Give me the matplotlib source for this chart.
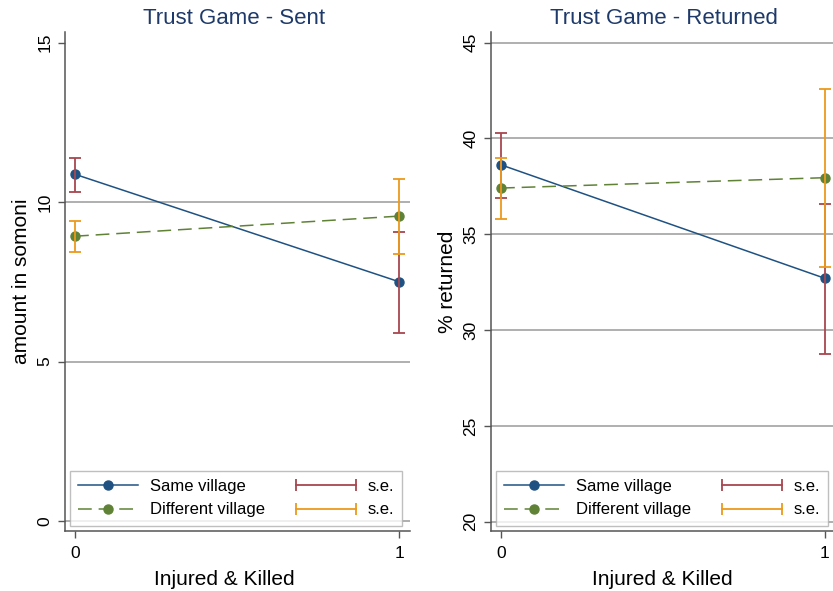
import matplotlib
matplotlib.use("Agg")
import matplotlib.pyplot as plt
from matplotlib.lines import Line2D
from matplotlib.legend_handler import HandlerLine2D

plt.rcParams['font.family'] = ['Liberation Sans', 'DejaVu Sans']

# Data
x_vals = [0, 1]
x_ticklabels = ["0", "1"]

sent_same = [10.87, 7.50]
sent_same_lo = [10.32, 5.91]
sent_same_hi = [11.39, 9.07]
sent_diff = [8.93, 9.56]
sent_diff_lo = [8.44, 8.36]
sent_diff_hi = [9.41, 10.72]

ret_same = [38.62, 32.70]
ret_same_lo = [36.90, 28.77]
ret_same_hi = [40.26, 36.57]
ret_diff = [37.41, 37.95]
ret_diff_lo = [35.81, 33.31]
ret_diff_hi = [38.99, 42.60]

sent_ticks = [0, 5, 10, 15]
sent_grid = [0, 5, 10]
ret_ticks = [20, 25, 30, 35, 40, 45]
ret_grid = [20, 25, 30, 35, 40, 45]

C_SAME = "#1f5282"
C_DIFF = "#5f8236"
C_SE1 = "#a8474f"
C_SE2 = "#eb9a1c"
C_TITLE = "#1e3a6a"
C_GRID = "#9a9a9a"
C_SPINE = "#555555"

fig = plt.figure(figsize=(8.33, 5.91), dpi=100)

panels = [
    dict(rect=[65/833, 60/591, 345/833, 499/591], title="Trust Game - Sent",
         ylabel="amount in somoni", ylim=(-0.31, 15.33), ticks=sent_ticks, grid=sent_grid,
         same=sent_same, same_lo=sent_same_lo, same_hi=sent_same_hi,
         diff=sent_diff, diff_lo=sent_diff_lo, diff_hi=sent_diff_hi, xlim=(-0.031, 1.033),
         leg_anchor=(5/345, 5.3/499), xlabel_x=0.463, title_x=0.49),
    dict(rect=[491/833, 60/591, 342/833, 499/591], title="Trust Game - Returned",
         ylabel="% returned", ylim=(19.52, 45.55), ticks=ret_ticks, grid=ret_grid,
         same=ret_same, same_lo=ret_same_lo, same_hi=ret_same_hi,
         diff=ret_diff, diff_lo=ret_diff_lo, diff_hi=ret_diff_hi, xlim=(-0.031, 1.025),
         leg_anchor=(5/342, 5.3/499), xlabel_x=0.5, title_x=0.505),
]

for p in panels:
    ax = fig.add_axes(p["rect"])
    ax.set_xlim(*p["xlim"])
    ax.set_ylim(*p["ylim"])
    for g in p["grid"]:
        ax.axhline(g, color=C_GRID, lw=1.1, zorder=1)

    ax.plot(x_vals, p["same"], color=C_SAME, lw=1.1, marker="o", ms=6.5,
            zorder=3)
    ax.plot(x_vals, p["diff"], color=C_DIFF, lw=1.1, ls=(0, (9, 4.5)), marker="o",
            ms=6.5, zorder=3)

    for lo, hi, mid, col in [(p["same_lo"], p["same_hi"], p["same"], C_SE1),
                             (p["diff_lo"], p["diff_hi"], p["diff"], C_SE2)]:
        yerr = [[m - l for m, l in zip(mid, lo)], [h - m for m, h in zip(mid, hi)]]
        ax.errorbar(x_vals, mid, yerr=yerr, fmt="none", ecolor=col, elinewidth=1.3,
                    capsize=4, capthick=1.3, zorder=4)

    for s in ["top", "right"]:
        ax.spines[s].set_visible(False)
    for s in ["left", "bottom"]:
        ax.spines[s].set_color(C_SPINE)
        ax.spines[s].set_linewidth(1.1)

    ax.set_xticks(x_vals)
    ax.set_xticklabels(x_ticklabels)
    ax.set_yticks(p["ticks"])
    ax.set_yticklabels([str(t) for t in p["ticks"]], rotation=90, va="center")
    ax.tick_params(axis="both", direction="out", length=5, width=1, color=C_SPINE,
                   labelsize=12.5, pad=4)
    ax.tick_params(axis="x", pad=6)

    ax.set_title(p["title"], color=C_TITLE, fontsize=16, pad=6, x=p["title_x"])
    ax.set_xlabel("Injured & Killed", fontsize=15, labelpad=6)
    ax.xaxis.label.set_x(p["xlabel_x"])
    ax.set_ylabel(p["ylabel"], fontsize=15, labelpad=5)

    h_same = Line2D([], [], color=C_SAME, lw=1.1, marker="o", ms=6.5)
    h_diff = Line2D([], [], color=C_DIFF, lw=1.1, ls=(0, (9, 4.5)), marker="o", ms=6.5)
    h_se1 = Line2D([], [], color=C_SE1, lw=1.3, marker="|", ms=8, mew=1.3)
    h_se2 = Line2D([], [], color=C_SE2, lw=1.3, marker="|", ms=8, mew=1.3)
    leg = ax.legend([h_same, h_diff, h_se1, h_se2],
                    ["Same village", "Different village", "s.e.", "s.e."],
                    ncol=2, loc="lower left", bbox_to_anchor=p["leg_anchor"],
                    borderaxespad=0.0,
                    fontsize=12, frameon=True, fancybox=False, edgecolor="#b0b0b0",
                    handlelength=3.6, handletextpad=0.7, columnspacing=1.85,
                    labelspacing=0.5, borderpad=0.5,
                    handler_map={h_se1: HandlerLine2D(numpoints=2, marker_pad=0),
                                 h_se2: HandlerLine2D(numpoints=2, marker_pad=0),
                                 h_same: HandlerLine2D(numpoints=1),
                                 h_diff: HandlerLine2D(numpoints=1)})
    leg.get_frame().set_linewidth(1.0)
    leg.set_zorder(5)

fig.savefig("out.png", dpi=100, facecolor="white")
